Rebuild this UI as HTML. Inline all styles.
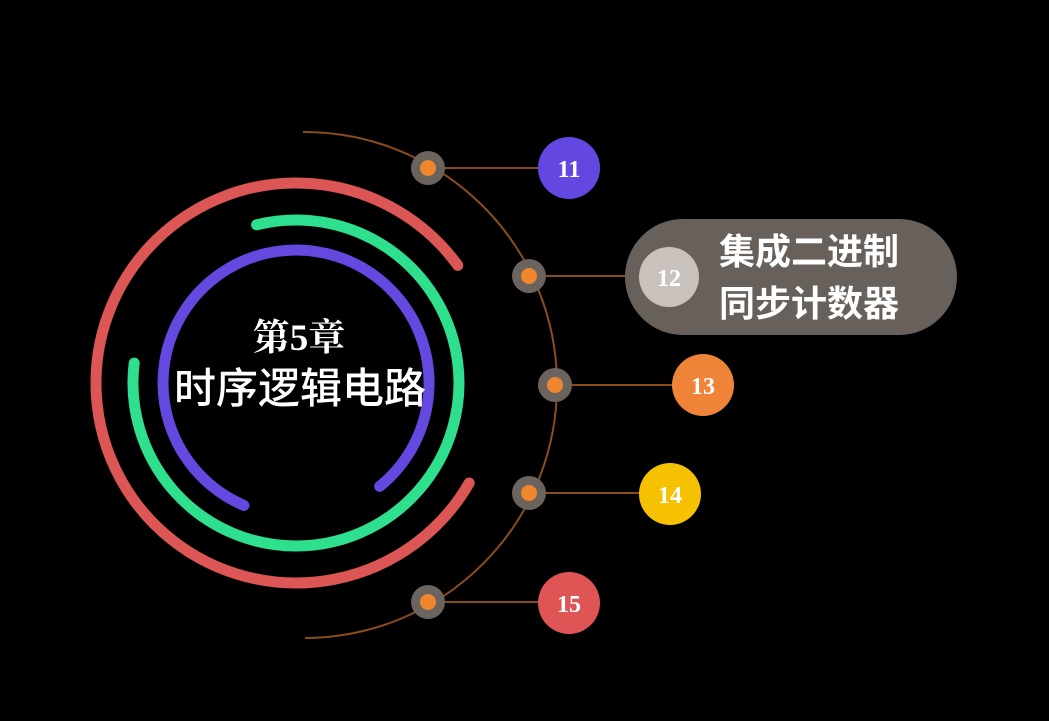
<!DOCTYPE html>
<html><head><meta charset="utf-8"><style>
html,body{margin:0;padding:0;background:#000;width:1049px;height:721px;overflow:hidden}
svg{display:block}
.n{font-family:"Liberation Serif",serif;font-weight:bold;font-size:24px;fill:#fff;text-anchor:middle}
.c{font-family:"Liberation Sans","Noto Sans CJK SC",sans-serif;font-weight:bold;fill:#fff}
.r{font-family:"Liberation Sans","Noto Sans CJK SC",sans-serif;font-weight:500;fill:#fff}
</style></head><body>
<svg width="1049" height="721" viewBox="0 0 1049 721">
<rect width="1049" height="721" fill="#000"/>
<g fill="none" stroke-linecap="round" stroke-width="11">
<path d="M469.2 483 A200 200 0 1 1 457.8 265.4" stroke="#dd5656"/>
<path d="M134.2 363.1 A163 163 0 1 0 256.6 224.8" stroke="#2ee08e"/>
<path d="M244 505.4 A133 133 0 1 1 379.7 486.4" stroke="#6448e0"/>
</g>
<path d="M303 132 A253 253 0 0 1 305 638" fill="none" stroke="#8a4d1e" stroke-width="2"/>
<g stroke="#8a4d1e" stroke-width="2">
<line x1="428" y1="168" x2="540" y2="168"/>
<line x1="529" y1="276" x2="640" y2="276"/>
<line x1="555" y1="385" x2="672" y2="385"/>
<line x1="529" y1="493" x2="640" y2="493"/>
<line x1="428" y1="602" x2="540" y2="602"/>
</g>
<g fill="#6b635d">
<circle cx="428" cy="168" r="17"/><circle cx="529" cy="276" r="17"/><circle cx="555" cy="385" r="17"/><circle cx="529" cy="493" r="17"/><circle cx="428" cy="602" r="17"/>
</g>
<g fill="#f0872e">
<circle cx="428" cy="168" r="8"/><circle cx="529" cy="276" r="8"/><circle cx="555" cy="385" r="8"/><circle cx="529" cy="493" r="8"/><circle cx="428" cy="602" r="8"/>
</g>
<circle cx="569" cy="168" r="31" fill="#6447e0"/>
<text class="n" x="569" y="177">11</text>
<rect x="625" y="219" width="332" height="116" rx="58" fill="#67605b"/>
<circle cx="669" cy="277" r="30" fill="#c9c2bd"/>
<text class="n" x="669" y="286">12</text>
<text class="c" x="719" y="264" font-size="36">集成二进制</text>
<text class="c" x="719" y="316" font-size="36">同步计数器</text>
<circle cx="703" cy="385" r="31" fill="#ef8438"/>
<text class="n" x="703" y="394">13</text>
<circle cx="670" cy="494" r="31" fill="#f6c100"/>
<text class="n" x="670" y="503">14</text>
<circle cx="569" cy="603" r="31" fill="#df5555"/>
<text class="n" x="569" y="612">15</text>
<text class="c" x="299" y="350" font-size="37" text-anchor="middle" style="font-family:'Liberation Serif','Noto Serif CJK SC',serif">第5章</text>
<text class="r" x="300" y="403" font-size="42" text-anchor="middle">时序逻辑电路</text>
</svg>
</body></html>
